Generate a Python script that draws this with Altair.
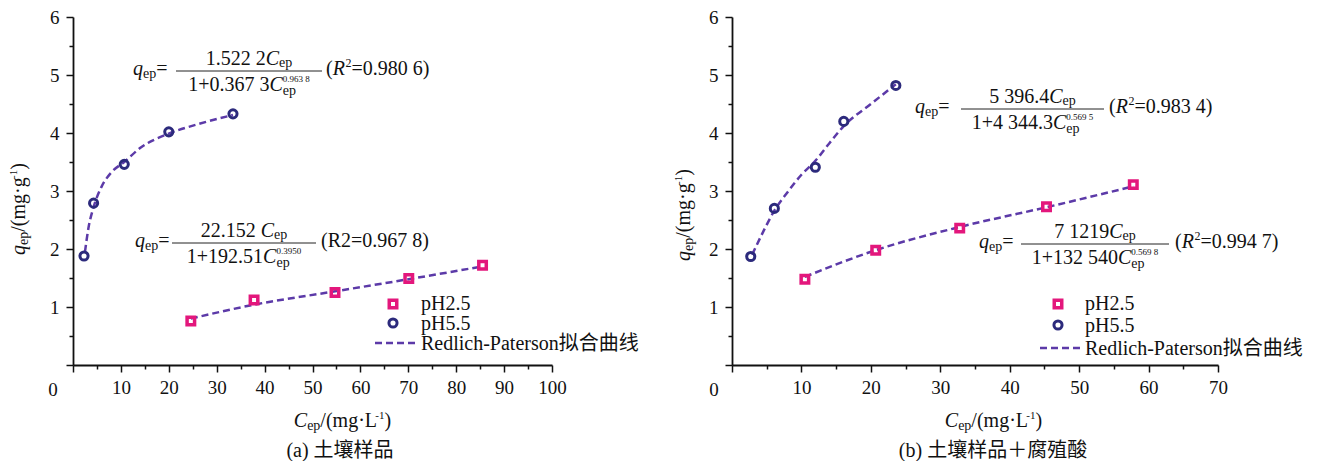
import altair as alt
import pandas as pd

# ---------------- data ----------------
a_ph25_x = [24.6, 37.8, 54.7, 70.1, 85.5]
a_ph25_y = [0.76, 1.12, 1.25, 1.49, 1.72]
a_ph55_x = [2.3, 4.3, 10.7, 20.0, 33.4]
a_ph55_y = [1.88, 2.79, 3.46, 4.02, 4.33]
a_fit25_x = [24.6, 37.8, 54.7, 70.1, 85.5]
a_fit25_y = [0.80, 1.04, 1.27, 1.48, 1.70]
a_fit55_x = [2.5, 3.2, 4.3, 6.0, 8.0, 10.7, 14.0, 20.0, 26.0, 33.4]
a_fit55_y = [1.95, 2.35, 2.72, 3.08, 3.32, 3.50, 3.74, 3.99, 4.15, 4.31]

b_ph25_x = [10.5, 20.7, 32.8, 45.3, 57.8]
b_ph25_y = [1.48, 1.98, 2.36, 2.73, 3.11]
b_ph55_x = [2.7, 6.1, 12.0, 16.1, 23.6]
b_ph55_y = [1.87, 2.70, 3.41, 4.20, 4.82]
b_fit25_x = [10.5, 20.7, 32.8, 45.3, 57.8]
b_fit25_y = [1.52, 1.98, 2.38, 2.72, 3.08]
b_fit55_x = [2.9, 4.5, 6.1, 8.0, 10.0, 12.0, 14.0, 16.1, 20.0, 23.6]
b_fit55_y = [1.90, 2.30, 2.66, 2.98, 3.28, 3.52, 3.82, 4.12, 4.50, 4.84]

legend_labels = ["pH2.5", "pH5.5", "Redlich-Paterson拟合曲线"]
captions = ["(a) 土壤样品", "(b) 土壤样品＋腐殖酸"]

# ---------------- styles ----------------
SERIF = "Liberation Serif, Times New Roman, serif"
MIX = "Liberation Serif, Noto Sans CJK SC"
MAG = "#e3177c"
NAVY = "#2c2a7c"
PURP = "#5c3aa8"
INK = "#111111"
F, FS, FP = 20, 14, 9
FT = 19

WID = {'.': .25, ' ': .25, '+': .564, '=': .564, '(': .333, ')': .333, '/': .278,
       'm': .778, 'g': .5, '·': .25, 'L': .611, '-': .333, 'e': .444, 'p': .5,
       'R': .64, 'C': .667, 'q': .5, 'H': .722}


def tw(t, s):
    return sum(WID.get(c, 1.0 if ord(c) > 0x2E80 else 0.5) for c in t) * s


one = pd.DataFrame({"k": [0]})


def txt(t, x, y, size, italic=False, align="left", angle=0, font=SERIF):
    kw = dict(text=t, fontSize=size, font=font, align=align, baseline="alphabetic", color=INK)
    if italic:
        kw["fontStyle"] = "italic"
    if angle:
        kw["angle"] = angle
    return alt.Chart(one).mark_text(**kw).encode(x=alt.value(x), y=alt.value(y))


def seg(t, s=F, it=False, dy=0, adv=True):
    return (t, s, it, dy, adv)


def rich(segs, x, y, o, anchor="left", vertical=False):
    total, pend = 0, 0
    for t, s, it, dy, adv in segs:
        w = tw(t, s)
        if adv:
            total += max(w, pend)
            pend = 0
        else:
            pend = max(pend, w)
    if vertical:
        start = y + total / 2 if anchor == "center" else y
    else:
        start = x - total / 2 if anchor == "center" else x
    out, pos, pend = [], 0, 0
    for t, s, it, dy, adv in segs:
        w = tw(t, s)
        if vertical:
            px, py = x + dy, start - pos
            out.append(txt(t, px - o[0], py - o[1], s, it, angle=270))
        else:
            px, py = start + pos, y + dy
            out.append(txt(t, px - o[0], py - o[1], s, it))
        if adv:
            pos += max(w, pend)
            pend = 0
        else:
            pend = max(pend, w)
    return out


def hline(x1, x2, y, o, color=INK, width=1.0, dash=None):
    kw = dict(color=color, strokeWidth=width)
    if dash:
        kw["strokeDash"] = dash
    return alt.Chart(one).mark_rule(**kw).encode(
        x=alt.value(x1 - o[0]), x2=alt.value(x2 - o[0]), y=alt.value(y - o[1]))


def equation(qx, ly, lx1, lx2, num, den, sup, rparts, rx, o):
    L = []
    L += rich([seg("q", it=True), seg("ep", FS, dy=3), seg("=")], qx, ly + 4, o)
    L.append(hline(lx1, lx2, ly, o, color="#222", width=1.0))
    cx = (lx1 + lx2) / 2
    L += rich([seg(num), seg("C", it=True), seg("ep", FS, dy=2)], cx, ly - 6, o, anchor="center")
    L += rich([seg(den), seg("C", it=True), seg("ep", FS, dy=4, adv=False), seg(sup, FP, dy=-9)],
              cx, ly + 20, o, anchor="center")
    L += rich(rparts, rx, ly + 4, o)
    return L


SQ = dict(shape="square", filled=False, color=MAG, strokeWidth=3.5, size=56, opacity=1)
CI = dict(shape="circle", filled=False, color=NAVY, strokeWidth=3, size=66, opacity=1)


def marker(style, x, y, o):
    return alt.Chart(one).mark_point(**style).encode(
        x=alt.value(x - o[0]), y=alt.value(y - o[1]))


def panel(xmax, d25x, d25y, d55x, d55y, f25x, f25y, f55x, f55y, W, H, extra):
    xs = alt.Scale(domain=[0, xmax], nice=False, zero=False)
    ys = alt.Scale(domain=[0, 6], nice=False, zero=False)
    xax = alt.Axis(values=list(range(0, xmax + 1, 5)), title=None, grid=False,
                   labelExpr="datum.value % 10 == 0 && datum.value > 0 ? '' + datum.value : ''",
                   tickSize={"condition": {"test": "datum.value % 10 == 0", "value": 7}, "value": 4},
                   labelPadding=6, labelFlush=False, labelOverlap=False)
    yax = alt.Axis(values=[i * 0.5 for i in range(13)], title=None, grid=False,
                   labelExpr="datum.value % 1 == 0 && datum.value > 0 ? '' + datum.value : ''",
                   tickSize={"condition": {"test": "datum.value % 1 == 0", "value": 7}, "value": 4},
                   labelPadding=7, labelFlush=False, labelOverlap=False)
    X = alt.X("x:Q", scale=xs, axis=xax)
    Y = alt.Y("y:Q", scale=ys, axis=yax)
    lines = []
    for fx, fy in ((f25x, f25y), (f55x, f55y)):
        lines.append(alt.Chart(pd.DataFrame({"x": fx, "y": fy})).mark_line(
            color=PURP, strokeWidth=2.5, strokeDash=[7, 4], interpolate="monotone").encode(x=X, y=Y))
    pts = [
        alt.Chart(pd.DataFrame({"x": d25x, "y": d25y})).mark_point(**SQ).encode(x=X, y=Y),
        alt.Chart(pd.DataFrame({"x": d55x, "y": d55y})).mark_point(**CI).encode(x=X, y=Y),
    ]
    return alt.layer(*lines, *pts, *extra).properties(width=W, height=H)


# ---------------- left panel ----------------
O1 = (74, 17)
W1, H1 = 479, 348
ex1 = []
ex1 += equation(134, 71, 177, 323, "1.522 2", "1+0.367 3", "0.963 8",
                [seg("("), seg("R", it=True), seg("2", 12, dy=-8), seg("=0.980 6)")], 327, O1)
ex1 += equation(136, 243, 173, 317, "22.152 ", "1+192.51", "0.3950",
                [seg("(R2=0.967 8)")], 322, O1)
ex1.append(marker(SQ, 394, 304, O1))
ex1.append(marker(CI, 394, 323, O1))
ex1.append(hline(376, 418, 343, O1, color=PURP, width=2.5, dash=[7, 4]))
ex1.append(txt(legend_labels[0], 422 - O1[0], 310 - O1[1], F, font=MIX))
ex1.append(txt(legend_labels[1], 422 - O1[0], 330 - O1[1], F, font=MIX))
ex1.append(txt(legend_labels[2], 422 - O1[0], 350 - O1[1], F, font=MIX))
ex1.append(txt("0", 54 - O1[0], 396 - O1[1], FT, align="center"))
ex1 += rich([seg("C", it=True), seg("ep", FS, dy=3), seg("/(mg·L"), seg("-1", 11, dy=-8), seg(" )")],
            346, 427, O1, anchor="center")
ex1 += rich([seg("q", it=True), seg("ep", FS, dy=3), seg("/(mg·g"), seg("-1", 11, dy=-8), seg(")")],
            26, 209, O1, anchor="center", vertical=True)
ex1.append(txt(captions[0], 341 - O1[0], 457 - O1[1], F, align="center", font=MIX))
left = panel(100, a_ph25_x, a_ph25_y, a_ph55_x, a_ph55_y, a_fit25_x, a_fit25_y,
             a_fit55_x, a_fit55_y, W1, H1, ex1)

# ---------------- right panel ----------------
O2 = (729, 17)
W2, H2 = 486, 348
ex2 = []
ex2 += equation(912, 109, 958, 1101, "5 396.4", "1+4 344.3", "0.569 5",
                [seg("("), seg("R", it=True), seg("2", 12, dy=-8), seg("=0.983 4)")], 1106, O2)
ex2 += equation(976, 244, 1018, 1166, "7 1219", "1+132 540", "0.569 8",
                [seg("("), seg("R", it=True), seg("2", 12, dy=-8), seg("=0.994 7)")], 1172, O2)
ex2.append(marker(SQ, 1055, 304, O2))
ex2.append(marker(CI, 1055, 325, O2))
ex2.append(hline(1037, 1079, 348, O2, color=PURP, width=2.5, dash=[7, 4]))
ex2.append(txt(legend_labels[0], 1082 - O2[0], 310 - O2[1], F, font=MIX))
ex2.append(txt(legend_labels[1], 1082 - O2[0], 332 - O2[1], F, font=MIX))
ex2.append(txt(legend_labels[2], 1082 - O2[0], 355 - O2[1], F, font=MIX))
ex2.append(txt("0", 711 - O2[0], 396 - O2[1], FT, align="center"))
ex2 += rich([seg("C", it=True), seg("ep", FS, dy=3), seg("/(mg·L"), seg("-1", 11, dy=-8), seg(" )")],
            993, 427, O2, anchor="center")
ex2 += rich([seg("q", it=True), seg("ep", FS, dy=3), seg("/(mg·g"), seg("-1", 11, dy=-8), seg(")")],
            687, 215, O2, anchor="center", vertical=True)
ex2.append(txt(captions[1], 990 - O2[0], 457 - O2[1], F, align="center", font=MIX))
right = panel(70, b_ph25_x, b_ph25_y, b_ph55_x, b_ph55_y, b_fit25_x, b_fit25_y,
              b_fit55_x, b_fit55_y, W2, H2, ex2)

chart = alt.hconcat(left, right, spacing=34).properties(padding=0, background="white").configure_view(
    stroke=None).configure_axis(
    domainColor=INK, domainWidth=1.8, tickColor=INK, tickWidth=1.5,
    labelFont=SERIF, labelFontSize=FT, labelColor=INK)

chart.save("out.html", embed_options={"renderer": "svg", "actions": False})
